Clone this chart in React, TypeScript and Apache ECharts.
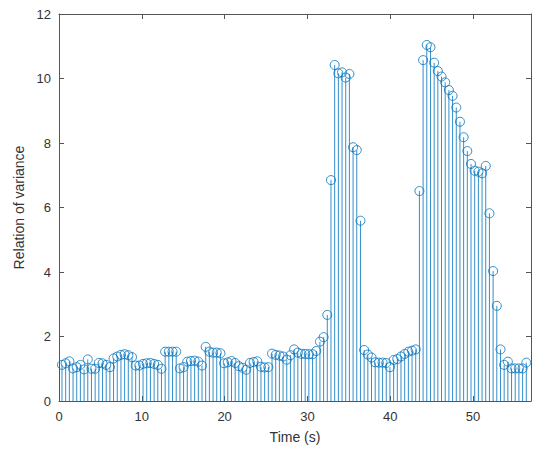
import React, { useEffect, useRef } from "react";
import * as echarts from "echarts";

// Sampling: first sample time and sampling period (s)
const startTime = 0.36;
const samplePeriod = 0.445;

// Relation of variance, one value per sample
const varianceRatio: number[] = [
  1.12, 1.17, 1.23, 1.01, 1.05, 1.12, 0.98, 1.29, 1.0, 1.0,
  1.18, 1.17, 1.12, 1.05, 1.32, 1.38, 1.43, 1.45, 1.42, 1.36,
  1.1, 1.1, 1.15, 1.17, 1.18, 1.15, 1.12, 1.0, 1.53, 1.53,
  1.53, 1.53, 1.01, 1.05, 1.22, 1.24, 1.25, 1.22, 1.1, 1.68,
  1.53, 1.5, 1.5, 1.48, 1.17, 1.2, 1.24, 1.18, 1.08, 1.03,
  0.97, 1.18, 1.21, 1.23, 1.06, 1.04, 1.05, 1.47, 1.43, 1.41,
  1.38, 1.28, 1.42, 1.6, 1.5, 1.46, 1.46, 1.45, 1.45, 1.55,
  1.84, 1.98, 2.67, 6.85, 10.42, 10.16, 10.19, 10.03, 10.14, 7.87,
  7.78, 5.59, 1.58, 1.44, 1.35, 1.2, 1.19, 1.19, 1.18, 1.05,
  1.27, 1.3, 1.38, 1.46, 1.53, 1.56, 1.6, 6.51, 10.57, 11.04,
  10.97, 10.49, 10.23, 10.06, 9.88, 9.64, 9.46, 9.1, 8.66, 8.18,
  7.75, 7.35, 7.14, 7.11, 7.06, 7.29, 5.82, 4.03, 2.95, 1.6,
  1.12, 1.22, 1.01, 1.01, 1.01, 1.01, 1.19,
];

const xTicks = [0, 10, 20, 30, 40, 50];
const yTicks = [0, 2, 4, 6, 8, 10, 12];

const STEM = "#0072BD";
const AXIS = "#555555";
const TEXT = "#333333";
const FONT = "'Liberation Sans', Arial, sans-serif";

export default function App() {
  const ref = useRef<HTMLDivElement>(null);

  useEffect(() => {
    document.body.style.margin = "0";
    if (!ref.current) return;
    const chart = echarts.init(ref.current, undefined, { renderer: "svg" });
    const points = varianceRatio.map((v, i) => [startTime + samplePeriod * i, v]);

    const axisCommon = {
      axisLine: { show: true, onZero: false, lineStyle: { color: AXIS, width: 1 } },
      axisTick: { show: true, inside: true, length: 5, lineStyle: { color: AXIS } },
      splitLine: { show: false },
    };

    chart.setOption({
      animation: false,
      backgroundColor: "#ffffff",
      grid: { left: 59, right: 2, top: 14, bottom: 49, show: false },
      xAxis: [
        {
          type: "value",
          min: 0,
          max: 57,
          interval: 10,
          ...axisCommon,
          axisLabel: {
            color: TEXT,
            fontFamily: FONT,
            fontSize: 13,
            margin: 9,
            formatter: (v: number) => (xTicks.includes(v) ? String(v) : ""),
          },
          name: "Time (s)",
          nameLocation: "middle",
          nameGap: 29,
          nameTextStyle: { color: TEXT, fontFamily: FONT, fontSize: 14 },
        },
        {
          type: "value",
          position: "top",
          min: 0,
          max: 57,
          interval: 10,
          ...axisCommon,
          axisLabel: { show: false },
        },
      ],
      yAxis: [
        {
          type: "value",
          min: 0,
          max: 12,
          interval: 2,
          ...axisCommon,
          axisLabel: {
            color: TEXT,
            fontFamily: FONT,
            fontSize: 13,
            margin: 8,
            formatter: (v: number) => (yTicks.includes(v) ? String(v) : ""),
          },
          name: "Relation of variance",
          nameLocation: "middle",
          nameGap: 30,
          nameRotate: 90,
          nameTextStyle: { color: TEXT, fontFamily: FONT, fontSize: 14 },
        },
        {
          type: "value",
          position: "right",
          min: 0,
          max: 12,
          interval: 2,
          ...axisCommon,
          axisLabel: { show: false },
        },
      ],
      series: [
        {
          type: "custom",
          xAxisIndex: 0,
          yAxisIndex: 0,
          data: points,
          renderItem: (params: any, api: any) => {
            const t = api.value(0);
            const v = api.value(1);
            const p0 = api.coord([t, 0]);
            const p1 = api.coord([t, v]);
            return {
              type: "line",
              shape: { x1: p0[0], y1: p0[1], x2: p1[0], y2: p1[1] },
              style: { stroke: STEM, lineWidth: 0.8 },
            };
          },
          z: 2,
        },
        {
          type: "scatter",
          xAxisIndex: 0,
          yAxisIndex: 0,
          data: points,
          symbol: "circle",
          symbolSize: 9,
          itemStyle: { color: "rgba(255,255,255,0)", borderColor: STEM, borderWidth: 1 },
          z: 3,
        },
      ],
    });

    return () => chart.dispose();
  }, []);

  return <div ref={ref} style={{ width: 534, height: 450 }} />;
}
